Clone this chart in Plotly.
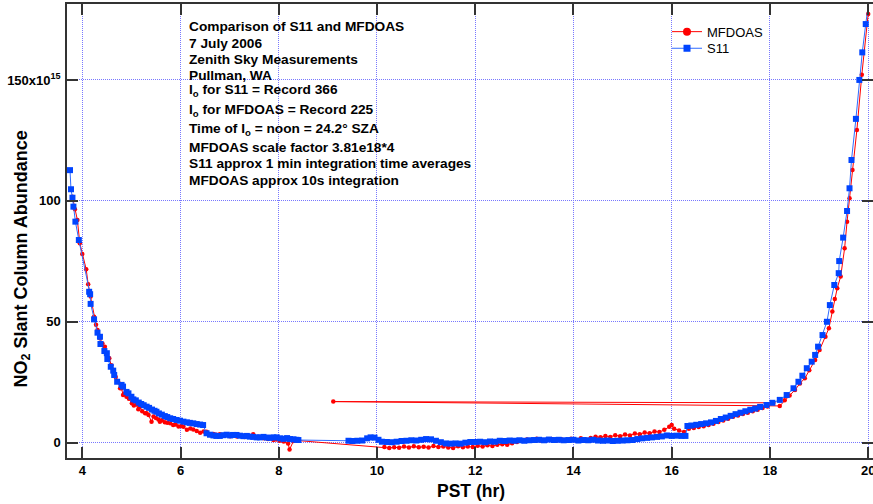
import plotly.graph_objects as go

# ---------------- data (NO2 slant column, units of 1e15) ----------------
s11_time = [3.75, 3.77, 3.80, 3.82, 3.86, 3.93, 4.14, 4.16, 4.17, 4.24, 4.31, 4.36, 4.37, 4.45, 4.50, 4.51,
            4.58, 4.63, 4.65, 4.71, 4.80, 4.83, 4.90, 4.94, 5.00, 5.04, 5.09, 5.15, 5.20, 5.25, 5.31, 5.36,
            5.42, 5.47, 5.51, 5.56, 5.62, 5.68, 5.73, 5.79, 5.85, 5.92, 5.99, 6.06, 6.13, 6.19, 6.26, 6.33,
            6.40, 6.46, 6.53, 6.60, 6.67, 6.73, 6.80, 6.87, 6.94, 7.01, 7.07, 7.14, 7.21, 7.28, 7.35, 7.41,
            7.48, 7.55, 7.62, 7.69, 7.76, 7.82, 7.89, 7.96, 8.03, 8.10, 8.17, 8.23, 8.30, 8.36, 8.40,
            9.42, 9.50, 9.60, 9.70, 9.80, 9.87, 9.95, 10.03, 10.10, 10.20, 10.30, 10.40, 10.50, 10.60, 10.70,
            10.80, 10.90, 11.00, 11.10, 11.20, 11.30, 11.40, 11.50, 11.60, 11.70, 11.80, 11.90, 12.00, 12.10,
            12.20, 12.30, 12.40, 12.50, 12.60, 12.70, 12.80, 12.90, 13.00, 13.10, 13.20, 13.30, 13.40, 13.50,
            13.60, 13.70, 13.80, 13.90, 14.00, 14.10, 14.20, 14.30, 14.40, 14.50, 14.60, 14.70, 14.80, 14.90,
            15.00, 15.10, 15.20, 15.30, 15.40, 15.50, 15.60, 15.70, 15.80, 15.90, 16.00, 16.10, 16.20, 16.28,
            16.32, 16.40, 16.50, 16.60, 16.70, 16.80, 16.90, 17.00, 17.10, 17.20, 17.30, 17.40, 17.50, 17.60,
            17.70, 17.80, 17.93, 18.05, 18.20, 18.34, 18.48, 18.58, 18.66, 18.75, 18.85, 18.92, 18.98, 19.07,
            19.16, 19.22, 19.31, 19.40, 19.41, 19.49, 19.57, 19.62, 19.66, 19.75, 19.82, 19.88, 19.95, 20.03]
s11_scd = [112.7, 104.8, 101.3, 97.6, 91.4, 83.8, 62.4, 61.4, 57.4, 51.0, 45.5, 43.8, 40.8, 37.9, 37.0, 34.6,
           31.4, 29.8, 28.0, 25.2, 23.9, 23.2, 21.0, 20.4, 19.0, 17.9, 17.5, 16.6, 16.0, 15.5, 14.9, 14.4,
           13.7, 13.2, 12.8, 12.1, 11.6, 11.0, 10.6, 10.1, 9.8, 9.4, 9.1, 8.7, 8.4, 8.2, 8.0, 7.7,
           7.5, 7.3, 3.9, 3.3, 3.0, 2.8, 2.8, 3.1, 3.3, 3.0, 3.2, 3.2, 2.9, 2.7, 2.8, 2.5,
           2.4, 2.2, 2.2, 2.4, 2.1, 2.0, 2.2, 2.2, 1.8, 1.6, 1.9, 1.5, 1.4, 1.2, 1.1,
           0.8, 0.7, 0.8, 0.9, 1.8, 2.2, 2.1, 1.2, 0.4, 0.3, 0.2, 0.4, 0.7, 0.8, 1.0,
           0.9, 1.2, 1.5, 1.4, 0.8, 0.2, -0.3, -0.4, -0.3, -0.4, 0.0, 0.3, 0.3, 0.4,
           0.2, 0.5, 0.4, 0.8, 0.7, 0.9, 0.8, 1.0, 0.8, 1.0, 1.1, 1.2, 1.0, 1.3,
           1.1, 1.2, 1.0, 1.1, 1.2, 0.9, 1.1, 1.0, 1.2, 0.9, 0.8, 0.9, 0.7, 0.8,
           0.9, 1.0, 1.1, 1.5, 1.8, 2.0, 2.2, 2.4, 2.6, 3.0, 2.8, 2.9, 2.8, 2.8,
           6.9, 7.1, 7.4, 7.7, 8.0, 8.4, 9.0, 9.8, 10.4, 11.1, 11.8, 12.4, 13.0, 13.6,
           14.1, 14.8, 15.6, 16.5, 17.7, 19.7, 22.5, 25.2, 27.7, 30.8, 33.5, 36.3, 39.7, 44.5,
           50.0, 56.9, 65.2, 70.1, 75.1, 84.8, 95.8, 105.2, 116.9, 133.9, 150.0, 161.4, 173.1, 185.0]

mfdoas_time = [3.80, 3.85, 3.90, 3.95, 4.00, 4.08, 4.12, 4.17, 4.24, 4.28, 4.31, 4.36, 4.41, 4.46, 4.50, 4.55,
               4.59, 4.63, 4.68, 4.73, 4.77, 4.80, 4.83, 4.87, 4.90, 4.95, 5.01, 5.05, 5.10, 5.14, 5.17, 5.22,
               5.28, 5.31, 5.35, 5.41, 5.45, 5.50, 5.55, 5.58, 5.62, 5.68, 5.73, 5.79, 5.85, 5.90, 5.96, 6.02,
               6.06, 6.13, 6.20, 6.26, 6.33, 6.40, 6.47, 6.53, 6.60, 6.67, 6.73, 6.80, 6.87, 6.94, 7.01, 7.08,
               7.15, 7.22, 7.30, 7.41, 7.48, 7.55, 7.62, 7.70, 7.78, 7.89, 7.95, 8.02, 8.10, 8.19, 8.22, 8.30, 8.38,
               10.15, 10.25, 10.35, 10.45, 10.55, 10.65, 10.75, 10.85, 10.95, 11.05, 11.15, 11.25, 11.35, 11.45,
               11.55, 11.65, 11.75, 11.85, 11.95, 12.05, 12.15, 12.25, 12.35, 12.45, 12.55, 12.65, 12.75, 12.85,
               12.95, 13.05, 13.15, 13.25, 13.35, 13.45, 13.55, 13.65, 13.75, 13.85, 13.95, 14.05, 14.15, 14.25,
               14.35, 14.45, 14.55, 14.65, 14.75, 14.85, 14.95, 15.05, 15.15, 15.25, 15.35, 15.45, 15.55, 15.65,
               15.75, 15.85, 15.95, 16.00, 16.05, 16.15, 16.25, 16.35, 16.45, 16.55, 16.65, 16.75, 16.85, 16.95,
               17.05, 17.15, 17.25, 17.35, 17.45, 17.55, 17.65, 17.75, 17.85, 17.95, 18.07, 9.11, 18.20, 18.30,
               18.40, 18.51, 18.61, 18.71, 18.80, 18.92, 19.01, 19.13, 19.20, 19.27, 19.32, 19.37, 19.44, 19.52,
               19.57, 19.62, 19.68, 19.77, 19.87, 20.00]
mfdoas_scd = [101.7, 96.5, 92.1, 82.5, 78.0, 71.7, 65.5, 60.4, 52.1, 48.8, 46.6, 43.2, 41.0, 39.7, 37.0, 34.9,
              32.0, 30.1, 27.2, 25.2, 22.5, 22.5, 19.7, 20.4, 19.0, 18.2, 16.3, 15.4, 15.8, 13.8, 14.9, 13.0,
              12.2, 12.2, 11.4, 8.7, 10.8, 10.2, 9.6, 8.7, 9.3, 8.5, 8.2, 8.0, 7.3, 7.5, 6.7, 6.9,
              6.6, 5.3, 5.9, 5.5, 4.8, 4.1, 4.6, 4.5, 3.2, 3.6, 3.3, 3.5, 3.0, 3.2, 2.7, 3.1,
              2.6, 2.9, 2.4, 2.8, 3.5, 2.2, 2.0, 1.8, 1.5, 1.1, 1.3, 0.8, 0.5, -0.3, -2.8, 0.7, 0.9,
              -1.8, -2.2, -1.9, -2.1, -1.6, -2.0, -1.5, -1.9, -1.7, -2.0, -1.4, -1.8, -1.6, -2.0,
              -2.2, -1.5, -1.9, -1.6, -1.8, -1.3, -1.6, -1.1, -1.4, -0.9, -0.6, -0.8, -0.2, 0.3,
              0.9, 1.3, 1.0, 1.6, 0.8, 1.2, 1.5, 0.9, 1.4, 1.1, 1.6, 1.0, 1.8, 1.3,
              1.9, 2.5, 2.2, 2.8, 2.4, 3.1, 2.7, 3.4, 3.0, 3.8, 3.5, 4.2, 3.9, 4.6,
              4.4, 5.3, 6.6, 7.3, 5.8, 5.0, 4.4, 5.8, 6.1, 6.5, 6.8, 7.3, 7.8, 8.6,
              9.2, 9.9, 10.7, 11.2, 11.9, 12.4, 13.0, 13.6, 14.3, 15.0, 16.5, 17.0, 15.2, 17.5,
              19.5, 21.8, 24.5, 26.6, 30.0, 34.2, 38.3, 43.8, 47.3, 54.2, 59.4, 63.9, 68.7, 80.4,
              91.4, 101.1, 112.8, 129.3, 152.1, 177.3]

x_tick_vals = [4, 6, 8, 10, 12, 14, 16, 18, 20]
y_tick_vals = [0, 50, 100, 150]
y_tick_text = ["0", "50", "100", "150x10<sup>15</sup>"]

info_lines = [
    "Comparison of S11 and MFDOAS",
    "7 July 2006",
    "Zenith Sky Measurements",
    "Pullman, WA",
    "I<sub>o</sub> for S11 = Record 366",
    "I<sub>o</sub> for MFDOAS = Record 225",
    "Time of I<sub>o</sub> = noon = 24.2° SZA",
    "MFDOAS scale factor 3.81e18*4",
    "S11 approx 1 min integration time averages",
    "MFDOAS approx 10s integration",
]
info_line_px = [26.7, 43.3, 59.3, 75.0, 90.7, 110.0, 129.3, 147.7, 164.0, 180.0]

# ---------------- layout geometry ----------------
W, H = 873, 504
L, R, T, B = 67, 0, 4, 46
PW, PH = W - L - R, H - T - B

def px_x(px):
    return (px - L) / PW

def px_y(py):
    return (H - B - py) / PH

FONT = "Liberation Sans, Arial, sans-serif"
RED = "#ff0000"
BLUE = "#0044ff"
BLUE_LINE = "#2f6bff"

fig = go.Figure()

fig.add_trace(go.Scatter(
    x=mfdoas_time, y=mfdoas_scd, mode="lines+markers", name="MFDOAS", showlegend=False,
    line=dict(color=RED, width=1), marker=dict(symbol="circle", size=4.5, color=RED)))
fig.add_trace(go.Scatter(
    x=s11_time, y=s11_scd, mode="lines+markers", name="S11", showlegend=False,
    line=dict(color=BLUE_LINE, width=1), marker=dict(symbol="square", size=6, color=BLUE)))
# legend entries (larger symbols, as in the original legend), one legend box each
fig.add_trace(go.Scatter(
    x=[None], y=[None], mode="lines+markers", name="MFDOAS", legend="legend",
    line=dict(color=RED, width=1), marker=dict(symbol="circle", size=8, color=RED)))
fig.add_trace(go.Scatter(
    x=[None], y=[None], mode="lines+markers", name="S11", legend="legend2",
    line=dict(color=BLUE_LINE, width=1), marker=dict(symbol="square", size=7, color=BLUE)))

grid = dict(showgrid=True, gridcolor="rgb(120,120,255)", griddash="1px,1px", gridwidth=1,
            zeroline=False, showline=True, linecolor="#333333", linewidth=1.5, mirror="ticks",
            ticks="inside", ticklen=11, tickwidth=1.5, tickcolor="#333333",
            ticklabeloverflow="allow",
            tickfont=dict(family=FONT, size=13, color="black", weight="bold"))

fig.update_xaxes(range=[3.689, 20.098], tickvals=x_tick_vals,
                 ticktext=[str(v) for v in x_tick_vals], **grid)
fig.update_yaxes(range=[-6.33, 181.4], tickvals=y_tick_vals, ticktext=y_tick_text, ticklabelstandoff=2, **grid)

annotations = []
for txt, py in zip(info_lines, info_line_px):
    annotations.append(dict(text=txt, xref="paper", yref="paper", x=px_x(187), y=px_y(py),
                            xanchor="left", yanchor="middle", showarrow=False, align="left",
                            font=dict(family=FONT, size=13.7, color="black", weight="bold")))
annotations.append(dict(text="NO<sub>2</sub> Slant Column Abundance", xref="paper", yref="paper",
                        x=px_x(22), y=px_y(259.5), textangle=-90, xanchor="center", yanchor="middle",
                        showarrow=False, font=dict(family=FONT, size=18, color="black", weight="bold")))
annotations.append(dict(text="PST (hr)", xref="paper", yref="paper",
                        x=px_x(471), y=px_y(491), xanchor="center", yanchor="middle",
                        showarrow=False, font=dict(family=FONT, size=17.5, color="black", weight="bold")))

leg_common = dict(xanchor="left", yanchor="middle", bgcolor="rgba(255,255,255,0)", borderwidth=0,
                  font=dict(family=FONT, size=13, color="black"))
fig.update_layout(
    width=W, height=H, margin=dict(l=L, r=R, t=T, b=B, autoexpand=False),
    paper_bgcolor="white", plot_bgcolor="white",
    showlegend=True,
    legend=dict(x=px_x(667), y=px_y(31.7), **leg_common),
    legend2=dict(x=px_x(667), y=px_y(48.3), **leg_common),
    annotations=annotations,
)

fig.write_html("out.html")
